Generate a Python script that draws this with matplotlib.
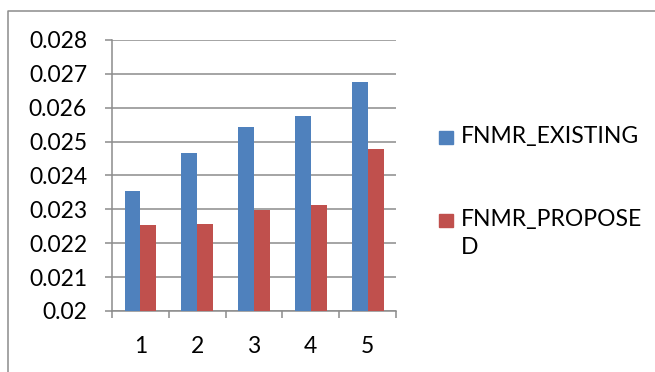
import matplotlib.pyplot as plt
from matplotlib.patches import Rectangle
from matplotlib.lines import Line2D
import numpy as np

categories = ['1', '2', '3', '4', '5']
fnmr_existing = [0.02355, 0.02465, 0.02543, 0.02575, 0.02676]
fnmr_proposed = [0.02255, 0.02256, 0.02297, 0.02312, 0.02478]
series_labels = ['FNMR_EXISTING', 'FNMR_PROPOSE\nD']
series_colors = ['#4F81BD', '#C0504D']
y_ticks = [0.02, 0.021, 0.022, 0.023, 0.024, 0.025, 0.026, 0.027, 0.028]

plt.rcParams['font.family'] = ['Lato', 'DejaVu Sans']
grey = '#8c8c8c'

fig = plt.figure(figsize=(6.55, 3.72), dpi=100)
ax = fig.add_axes([0.171, 0.164, 0.4336, 0.7285])

x = np.arange(len(categories))
w = 0.28
ax.bar(x - w / 2, fnmr_existing, w, color=series_colors[0], zorder=3)
ax.bar(x + w / 2, fnmr_proposed, w, color=series_colors[1], zorder=3)

ax.set_xlim(-0.5, len(categories) - 0.5)
ax.set_ylim(y_ticks[0], y_ticks[-1])
ax.set_yticks(y_ticks)
ax.set_yticklabels([f'{v:g}' for v in y_ticks], fontsize=16.5)
ax.set_xticks(x)
ax.set_xticklabels(categories, fontsize=16.5)
ax.set_xticks(np.arange(-0.5, len(categories)), minor=True)
ax.tick_params(axis='x', which='major', length=0, pad=18)
ax.tick_params(axis='x', which='minor', length=5, width=1.1, color=grey, direction='out')
ax.tick_params(axis='y', length=5, width=1.1, color=grey, direction='out', pad=13)

ax.grid(axis='y', color=grey, linewidth=1.1, zorder=0)
for s in ['top', 'right']:
    ax.spines[s].set_visible(False)
for s in ['left', 'bottom']:
    ax.spines[s].set_color(grey)
    ax.spines[s].set_linewidth(1.1)

# legend drawn by hand so the marker sits on the first text line
W, H = 655, 372
legend_rows = [131, 214]
for label, color, top in zip(series_labels, series_colors, legend_rows):
    fig.patches.append(Rectangle((439 / W, 1 - (top + 13) / H), 14 / W, 13 / H,
                                 transform=fig.transFigure, color=color))
    fig.text(461 / W, 1 - (top - 5) / H, label, fontsize=16.5, va='top', ha='left',
             linespacing=1.4)

# chart frame
fig.lines.append(Line2D([7.5 / W, 7.5 / W, 1], [0, 1 - 10.5 / H, 1 - 10.5 / H],
                        transform=fig.transFigure, color=grey, linewidth=1.1))

fig.savefig('out.png', dpi=100)
